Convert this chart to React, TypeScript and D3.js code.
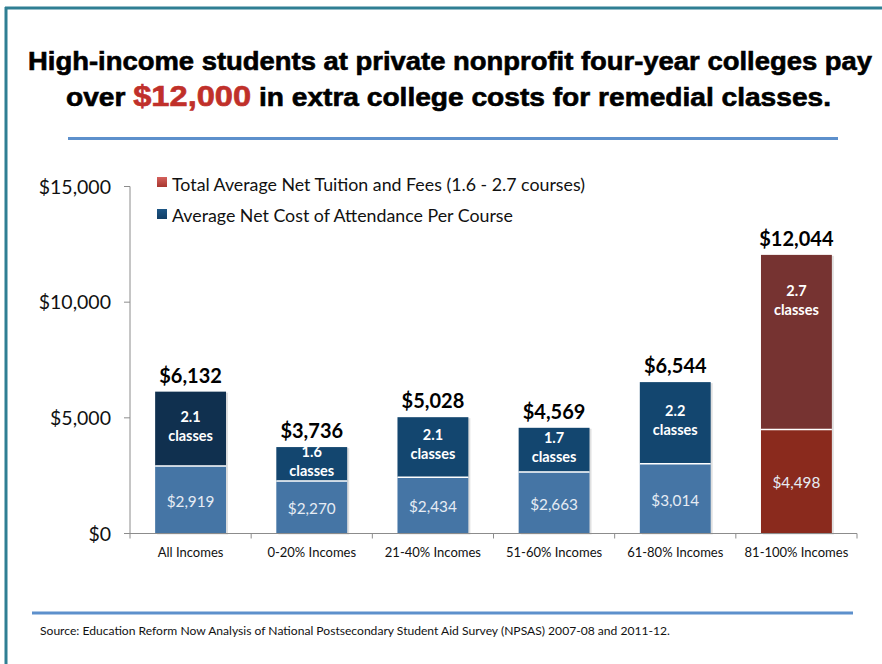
import React from "react";
import * as d3 from "d3";

const categories = ["All Incomes", "0-20% Incomes", "21-40% Incomes", "51-60% Incomes", "61-80% Incomes", "81-100% Incomes"];
const perCourseCost = [2919, 2270, 2434, 2663, 3014, 4498];
const totalCost = [6132, 3736, 5028, 4569, 6544, 12044];
const classCounts = ["2.1", "1.6", "2.1", "1.7", "2.2", "2.7"];
const yTicks = [0, 5000, 10000, 15000];
const legendLabels = [
  "Total Average Net Tuition and Fees (1.6 - 2.7 courses)",
  "Average Net Cost of Attendance Per Course",
];

const W = 882;
const H = 664;
const FONT = "Lato, 'Open Sans', sans-serif";
const TITLE_FONT = "'Liberation Sans', Arial, sans-serif";

const bottomColors = ["#4575a5", "#4575a5", "#4575a5", "#4575a5", "#4575a5", "#8a2a1d"];
const topColors = ["#10304f", "#13466f", "#13466f", "#13466f", "#13466f", "#763331"];

export default function App() {
  const x = d3.scaleBand<string>().domain(categories).range([130, 857]).paddingInner(0.415).paddingOuter(0.2075);
  const y = d3.scaleLinear().domain([0, 15000]).range([533.5, 186.5]);
  const fmt = (v: number) => "$" + d3.format(",")(v);
  const bw = x.bandwidth();
  const step = x.step();

  return (
    <svg width={W} height={H} style={{ position: "absolute", left: 0, top: 0, background: "#fff" }} fontFamily={FONT}>
      <defs>
        <linearGradient id="redsq" x1="0" y1="0" x2="0" y2="1">
          <stop offset="0" stopColor="#d4615c" />
          <stop offset="1" stopColor="#a8362f" />
        </linearGradient>
        <linearGradient id="bluesq" x1="0" y1="0" x2="0" y2="1">
          <stop offset="0" stopColor="#1d5686" />
          <stop offset="1" stopColor="#123f66" />
        </linearGradient>
      </defs>
      {/* frame */}
      <line x1={5} y1={8} x2={W} y2={8} stroke="#2f7f93" strokeWidth={3} />
      <line x1={6} y1={7} x2={6} y2={H} stroke="#2f7f93" strokeWidth={3} />

      {/* title */}
      <text x={28} y={70} textLength={844} lengthAdjust="spacingAndGlyphs" fontFamily={TITLE_FONT} fontWeight="bold" fontSize={25} fill="#000" stroke="#000" strokeWidth={0.6}>
        High-income students at private nonprofit four-year colleges pay
      </text>
      <text x={66} y={106} textLength={765} lengthAdjust="spacingAndGlyphs" fontFamily={TITLE_FONT} fontWeight="bold" fontSize={25} fill="#000" stroke="#000" strokeWidth={0.6}>
        over <tspan fill="#c0302a" stroke="#c0302a" fontSize={29}>$12,000</tspan> in extra college costs for remedial classes.
      </text>
      <line x1={68} y1={138.5} x2={838} y2={138.5} stroke="#5d90cc" strokeWidth={3} />

      {/* legend */}
      {legendLabels.map((t, i) => (
        <g key={t}>
          <rect x={157} y={177 + i * 32} width={10} height={10} fill={i === 0 ? "url(#redsq)" : "url(#bluesq)"} />
          <text x={172} y={191 + i * 31} fontSize={17.8} fill="#111">{t}</text>
        </g>
      ))}

      {/* y axis */}
      <line x1={130} y1={y(15000)} x2={130} y2={y(0)} stroke="#8c8c8c" strokeWidth={1} />
      {yTicks.map((t) => (
        <g key={t}>
          <line x1={124} x2={130} y1={y(t)} y2={y(t)} stroke="#8c8c8c" />
          <text x={111} y={y(t) + 7} textAnchor="end" fontSize={19.5} fill="#111">{fmt(t)}</text>
        </g>
      ))}

      {/* bars */}
      {categories.map((c, i) => {
        const x0 = x(c)!;
        const cx = x0 + bw / 2;
        const yb = y(perCourseCost[i]);
        const yt = y(totalCost[i]);
        const y0 = y(0);
        const topMid = Math.min((yt + yb) / 2 - 3, yt + 45);
        return (
          <g key={c}>
            <rect x={x0 + 2} y={yt + 1} width={bw} height={y0 - yt} fill="#000" opacity={0.12} />
            <rect x={x0} y={yb} width={bw} height={y0 - yb} fill={bottomColors[i]} />
            <rect x={x0} y={yt} width={bw} height={yb - yt} fill={topColors[i]} />
            <line x1={x0} x2={x0 + bw} y1={yb} y2={yb} stroke="#fff" strokeWidth={1.5} />
            <text x={cx} y={(yb + y0) / 2 + 7} textAnchor="middle" fontSize={15.3} fill="#e6ecf4">{fmt(perCourseCost[i])}</text>
            <text x={cx} y={topMid - 4} textAnchor="middle" fontSize={14.5} fontWeight="bold" fill="#fff">{classCounts[i]}</text>
            <text x={cx} y={topMid + 15} textAnchor="middle" fontSize={14.5} fontWeight="bold" fill="#fff">classes</text>
            <text x={cx} y={yt - 9} textAnchor="middle" fontSize={20} fontWeight="bold" fill="#000">{fmt(totalCost[i])}</text>
            <text x={cx} y={557} textAnchor="middle" fontSize={13} fill="#111">{c}</text>
          </g>
        );
      })}

      {/* x axis */}
      <line x1={130} x2={857} y1={y(0)} y2={y(0)} stroke="#8c8c8c" />
      {d3.range(categories.length + 1).map((k) => (
        <line key={k} x1={130 + k * step} x2={130 + k * step} y1={y(0)} y2={y(0) + 5} stroke="#8c8c8c" />
      ))}

      {/* footer */}
      <line x1={32} y1={613} x2={853} y2={613} stroke="#5d90cc" strokeWidth={3} />
      <text x={40} y={635} fontSize={12.1} fill="#111">
        Source: Education Reform Now Analysis of National Postsecondary Student Aid Survey (NPSAS) 2007-08 and 2011-12.
      </text>
    </svg>
  );
}
